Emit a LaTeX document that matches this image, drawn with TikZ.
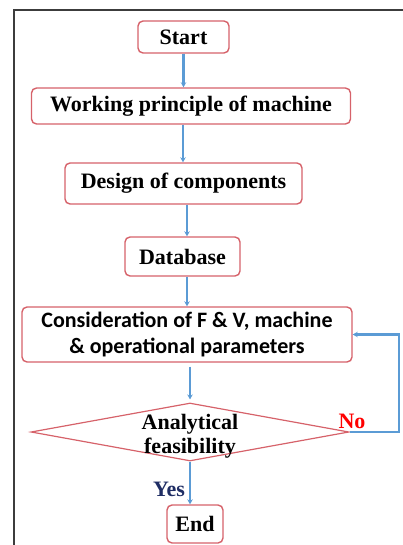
\documentclass[tikz,border=0pt]{standalone}
\usepackage{fontspec}
\setmainfont{Liberation Serif}
\newfontfamily\calibfont{Carlito}
\usetikzlibrary{shapes.geometric,arrows.meta,calc}
\definecolor{boxred}{RGB}{214,98,106}
\definecolor{flowblue}{RGB}{91,155,213}
\definecolor{yesnavy}{RGB}{31,45,100}
\definecolor{framegray}{RGB}{60,60,60}
\tikzset{
  stepbox/.style={draw=boxred, line width=1.4pt, rounded corners=5pt, fill=white,
    inner sep=0pt, font=\fontsize{22}{26}\selectfont\bfseries, align=center},
  flow/.style={draw=flowblue, line width=2.2pt, -{Stealth[length=5pt,width=5.5pt]}},
  decision/.style={diamond, draw=boxred, line width=1.2pt, inner sep=0pt},
}
\begin{document}
\begin{tikzpicture}[x=1pt,y=-1pt]
  \useasboundingbox (0,0) rectangle (403,545);
  % open frame: top and left edges
  \draw[framegray, line width=1.6pt] (14,545) -- (14,10) -- (403,10);

  % process boxes
  \node[stepbox, minimum width=91pt, minimum height=32pt] (start) at (183.5,37) {Start};
  \node[stepbox, minimum width=319pt, minimum height=36pt] (wp) at (191,106) {Working principle of machine};
  \node[stepbox, minimum width=237pt, minimum height=41pt] (design) at (183.5,183.5) {Design of components};
  \node[stepbox, minimum width=115pt, minimum height=39pt] (db) at (182.5,256.5) {Database};
  \node[stepbox, minimum width=330pt, minimum height=55pt, font=\fontsize{22}{26}\selectfont\calibfont\bfseries] (cons) at (187,334.5)
    {Consideration of F \& V, machine\\\& operational parameters};

  % decision
  \node[decision, minimum width=318pt, minimum height=58pt] (dec) at (190,432) {};
  \node[font=\fontsize{22}{24}\selectfont\bfseries, align=center, inner sep=0pt] (dectext) at (190,436) {Analytical\\feasibility};

  \node[stepbox, minimum width=56pt, minimum height=38pt] (end) at (195,524) {End};

  % branch labels
  \node[font=\fontsize{22}{26}\selectfont\bfseries, text=red, inner sep=0pt] (no) at (352,421) {No};
  \node[font=\fontsize{22}{26}\selectfont\bfseries, text=yesnavy, inner sep=0pt] (yes) at (169,489) {Yes};

  % connectors
  \draw[flow] (start.south) -- (start.south |- wp.north);
  \draw[flow] ([xshift=-8pt]wp.south) -- ([xshift=-8pt]wp.south |- design.north);
  \draw[flow] ([xshift=3.5pt]design.south) -- ([xshift=3.5pt]design.south |- db.north);
  \draw[flow] ([xshift=4.5pt]db.south) -- ([xshift=4.5pt]db.south |- cons.north);
  \draw[flow] ([xshift=3pt,yshift=-4pt]cons.south) -- ([yshift=3pt]dec.north);
  \draw[flow] (dec.south) -- (dec.south |- end.north);
  \draw[flow] (dec.east) -- ++(49,0) |- (cons.east);
\end{tikzpicture}
\end{document}
